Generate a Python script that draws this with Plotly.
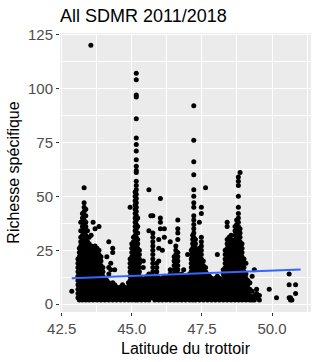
import plotly.graph_objects as go

# Latitude columns of sidewalks and the richness values observed at each
col_lat = [43.08, 43.13, 43.18, 43.24, 43.30, 43.36, 43.42, 43.48, 43.55, 43.62,
           43.69, 43.76, 43.83, 43.90, 43.97, 44.04, 44.11, 44.18, 44.25, 44.32,
           44.39, 44.46, 44.53, 44.60, 44.67, 44.74, 44.81, 44.88, 44.94, 45.00,
           45.06, 45.12, 45.16, 45.21, 45.27, 45.34, 45.41, 45.48, 45.55, 45.61,
           45.68, 45.75, 45.82, 45.89, 45.96, 46.02, 46.09, 46.16, 46.23, 46.30,
           46.37, 46.44, 46.51, 46.57, 46.64, 46.71, 46.78, 46.85, 46.92, 46.99,
           47.06, 47.12, 47.17, 47.21, 47.27, 47.34, 47.41, 47.48, 47.55, 47.63,
           47.70, 47.77, 47.84, 47.91, 47.98, 48.05, 48.12, 48.19, 48.26, 48.33,
           48.40, 48.47, 48.54, 48.61, 48.68, 48.74, 48.80, 48.86, 48.93, 49.00,
           49.07, 49.14, 49.21, 49.29, 49.37, 49.45, 49.55, 49.90, 50.16, 50.61,
           50.66, 50.71, 50.84]

col_vals = [
    [3, 5, 7, 9, 11, 13, 15, 17, 19, 21],
    [2, 4, 6, 8, 10, 12, 14, 16, 18, 20, 22, 24, 26],
    [3, 5, 7, 9, 11, 13, 15, 17, 19, 21, 23, 25, 27, 29, 31, 34, 38],
    [2, 4, 6, 8, 10, 12, 14, 16, 18, 20, 22, 24, 26, 28, 30, 32, 34, 36, 40, 42],
    [3, 5, 7, 9, 11, 13, 15, 17, 19, 21, 23, 25, 27, 29, 31, 33, 35, 37, 39, 41, 43, 45, 47, 54],
    [2, 4, 6, 8, 10, 12, 14, 16, 18, 20, 22, 24, 26, 28, 30, 32, 34, 36, 38, 41, 44],
    [3, 5, 7, 9, 11, 13, 15, 17, 19, 21, 23, 25, 27, 29, 31, 34],
    [2, 4, 6, 8, 10, 12, 14, 16, 18, 20, 22, 24, 26, 28, 31],
    [3, 5, 7, 9, 11, 13, 15, 17, 19, 21, 23, 25, 27, 32],
    [2, 4, 6, 8, 10, 12, 14, 16, 18, 20, 22, 24, 26, 38],
    [3, 5, 7, 9, 11, 13, 15, 17, 19, 21, 23, 25, 27, 35],
    [2, 4, 6, 8, 10, 12, 14, 16, 18, 20, 22, 24, 26],
    [3, 5, 7, 9, 11, 13, 15, 17, 19, 21, 23, 25, 36],
    [2, 4, 6, 8, 10, 12, 14, 16, 18, 20, 22],
    [3, 5, 7, 9, 11, 13, 15, 17],
    [2, 4, 6, 8, 10, 12],
    [3, 5, 7, 9, 11, 22],
    [2, 4, 6, 8, 10, 14, 17, 29],
    [3, 5, 7, 9, 16, 19],
    [2, 4, 6, 8, 10, 24, 26],
    [3, 5, 7, 9, 16],
    [2, 4, 6, 8],
    [3, 5, 7],
    [2, 4, 6, 8],
    [3, 5, 7, 9],
    [2, 4, 6, 8],
    [3, 5, 7],
    [2, 4, 6, 8, 10],
    [3, 5, 7, 9, 11, 13, 15, 17, 19, 21, 45],
    [2, 4, 6, 8, 10, 12, 14, 16, 18, 20, 22, 24, 26, 28],
    [3, 5, 7, 9, 11, 13, 15, 17, 19, 21, 23, 25, 27, 29, 31],
    [2, 4, 6, 8, 10, 12, 14, 16, 18, 20, 22, 24, 26, 28, 30, 32, 34, 36, 38, 40, 42, 44, 46, 48, 50, 52],
    [3, 5, 7, 9, 11, 13, 15, 17, 19, 21, 23, 25, 27, 29, 31, 33, 35, 37, 39, 41, 43, 45, 47, 49, 51,
     53, 55, 57, 61, 62, 64, 67, 71, 74, 77, 86, 96, 97, 104, 107],
    [2, 4, 6, 8, 10, 12, 14, 16, 18, 20, 22, 24, 26, 28, 30, 33, 36, 40],
    [3, 5, 7, 9, 11, 13, 15, 17, 19, 21, 23, 25],
    [2, 4, 6, 8, 10, 12],
    [3, 5, 7, 9, 11, 17, 20],
    [2, 4, 6, 8, 10, 12],
    [3, 5, 7, 9, 11, 13],
    [2, 4, 6, 8, 10, 12, 14, 34, 53],
    [3, 5, 7, 9, 11, 41],
    [3, 5, 7, 9, 11, 13, 15, 17, 19, 21, 23, 25, 27, 29, 31, 33, 41],
    [2, 4, 6, 8, 10, 12],
    [3, 5, 7, 9, 11, 13, 15, 17, 19],
    [2, 4, 6, 8, 10, 12, 20, 26, 30],
    [3, 5, 7, 9, 11, 35, 38, 40, 49],
    [2, 4, 6, 8, 10, 12, 25],
    [3, 5, 7, 9, 11, 13, 31, 35],
    [2, 4, 6, 8, 10, 12],
    [3, 5, 7, 9, 11, 13],
    [2, 4, 6, 8, 10, 12, 14, 16, 29],
    [3, 5, 7, 9, 11, 13],
    [2, 4, 6, 8, 10, 12, 14, 16, 18, 20, 22],
    [3, 5, 7, 9, 11, 13, 15, 17, 19, 21, 23, 25, 27],
    [2, 4, 6, 8, 10, 12, 14, 16, 18, 20, 22, 24, 30, 33, 35, 39],
    [3, 5, 7, 9, 11, 13],
    [2, 4, 6, 8, 10, 12, 14],
    [3, 5, 7, 9, 11, 13, 16],
    [2, 4, 6, 8, 10, 12],
    [3, 5, 7, 9, 11, 13, 23],
    [2, 4, 6, 8, 10, 12, 14],
    [3, 5, 7, 9, 11, 13, 15, 17, 19, 21, 23, 25],
    [2, 4, 6, 8, 10, 12, 14, 16, 18, 20, 22, 24, 26, 28, 30, 32],
    [3, 5, 7, 9, 11, 13, 15, 17, 19, 21, 23, 25, 27, 29, 31, 33, 35, 37, 39, 41, 45, 47, 50, 53,
     60, 66, 76, 92],
    [2, 4, 6, 8, 10, 12, 14, 16, 18, 20, 22, 24, 26, 28, 30],
    [3, 5, 7, 9, 11, 13, 15, 17, 19, 21, 23, 25],
    [2, 4, 6, 8, 10, 12, 14, 16, 18, 20, 22, 24, 26, 38],
    [3, 5, 7, 9, 11, 13, 15, 17, 19, 21, 23, 25, 27, 29, 31, 42, 45],
    [2, 4, 6, 8, 10, 12, 14, 16, 18, 20],
    [3, 5, 7, 9, 11, 13, 15, 17, 54],
    [2, 4, 6, 8, 10, 12, 14],
    [3, 5, 7, 9, 11, 13],
    [2, 4, 6, 8, 10, 12],
    [3, 5, 7, 9, 11],
    [2, 4, 6, 8, 10, 12],
    [3, 5, 7, 9, 11, 13, 23],
    [2, 4, 6, 8, 10, 12],
    [3, 5, 7, 9, 11],
    [2, 4, 6, 8, 10, 12, 14, 16],
    [3, 5, 7, 9, 11, 13, 15, 17, 19, 21, 23, 25],
    [2, 4, 6, 8, 10, 12, 14, 16, 18, 20, 22, 24, 26, 28, 30, 36, 38],
    [3, 5, 7, 9, 11, 13, 15, 17, 19, 21, 23, 25, 27, 29, 31],
    [2, 4, 6, 8, 10, 12, 14, 16, 18, 20, 22, 24, 26, 28, 30, 32],
    [3, 5, 7, 9, 11, 13, 15, 17, 19, 21, 23, 25, 27, 29],
    [2, 4, 6, 8, 10, 12, 14, 16, 18, 20, 22, 24, 26, 28, 30, 32, 34, 36],
    [3, 5, 7, 9, 11, 13, 15, 17, 19, 21, 23, 25, 27, 29, 31, 33, 35, 37, 39],
    [2, 4, 6, 8, 10, 12, 14, 16, 18, 20, 22, 24, 26, 28, 30, 32, 34, 36, 38, 40, 42, 45, 50, 55, 57, 59],
    [3, 5, 7, 9, 11, 13, 15, 17, 19, 21, 23, 25, 27, 29, 31, 33, 35, 61],
    [2, 4, 6, 8, 10, 12, 14, 16, 18, 20, 22, 24, 26, 28],
    [3, 5, 7, 9, 11, 13, 15, 17, 19, 21],
    [2, 4, 6, 8, 10, 12, 14, 19],
    [3, 5, 7, 9, 11],
    [2, 4, 7, 10],
    [2, 3, 6, 13],
    [2, 4, 16],
    [3, 5, 7],
    [2, 4],
    [7],
    [3],
    [3, 9, 14],
    [2, 3],
    [2],
    [5, 9],
]

# isolated points
extra_lat = [42.86, 43.54]
extra_val = [6, 120]

# linear fit (geom_smooth, method = "lm")
fit_lat = [42.86, 51.02]
fit_val = [12.0, 16.1]

# axis ticks
x_ticks = [42.5, 45.0, 47.5, 50.0]
x_ticktext = ["42.5", "45.0", "47.5", "50.0"]
x_minor = [43.75, 46.25, 48.75, 51.25]
y_ticks = [0, 25, 50, 75, 100, 125]
y_minor = [12.5, 37.5, 62.5, 87.5, 112.5]

assert len(col_lat) == len(col_vals)

lat = []
rich = []
for la, vals in zip(col_lat, col_vals):
    for v in vals:
        lat.append(la)
        rich.append(v)
lat += extra_lat
rich += extra_val

FONT = "Liberation Sans, Arial, sans-serif"

fig = go.Figure()
fig.add_trace(go.Scatter(x=lat, y=rich, mode="markers",
                         marker=dict(color="black", size=5, line=dict(width=0)),
                         showlegend=False, hoverinfo="skip"))
fig.add_trace(go.Scatter(x=fit_lat, y=fit_val, mode="lines",
                         line=dict(color="#3366FF", width=2),
                         showlegend=False, hoverinfo="skip"))

axis_common = dict(
    showgrid=True, gridcolor="white", gridwidth=1.1,
    zeroline=False, showline=False,
    ticks="outside", ticklen=3, tickwidth=1, tickcolor="#333333",
    tickfont=dict(family=FONT, size=15, color="#4D4D4D"),
)

fig.update_layout(
    width=320, height=362,
    margin=dict(l=60, r=9, t=33, b=50),
    paper_bgcolor="white", plot_bgcolor="#EBEBEB",
    font=dict(family=FONT),
    title=dict(text="All SDMR 2011/2018", x=0, xref="paper", xanchor="left",
               y=1 - 16 / 362, yref="container", yanchor="middle",
               font=dict(family=FONT, size=18, color="black")),
    xaxis=dict(range=[42.44, 51.39], tickmode="array", tickvals=x_ticks, ticktext=x_ticktext,
               minor=dict(tickmode="array", tickvals=x_minor, showgrid=True,
                          gridcolor="white", gridwidth=0.5, ticks=""),
               title=dict(text="Latitude du trottoir", standoff=6,
                          font=dict(family=FONT, size=16, color="black")),
               **axis_common),
    yaxis=dict(range=[-3.6, 125.7], tickmode="array", tickvals=y_ticks,
               minor=dict(tickmode="array", tickvals=y_minor, showgrid=True,
                          gridcolor="white", gridwidth=0.5, ticks=""),
               title=dict(text="Richesse spécifique", standoff=4,
                          font=dict(family=FONT, size=16, color="black")),
               **axis_common),
)

fig.write_html("out.html")
